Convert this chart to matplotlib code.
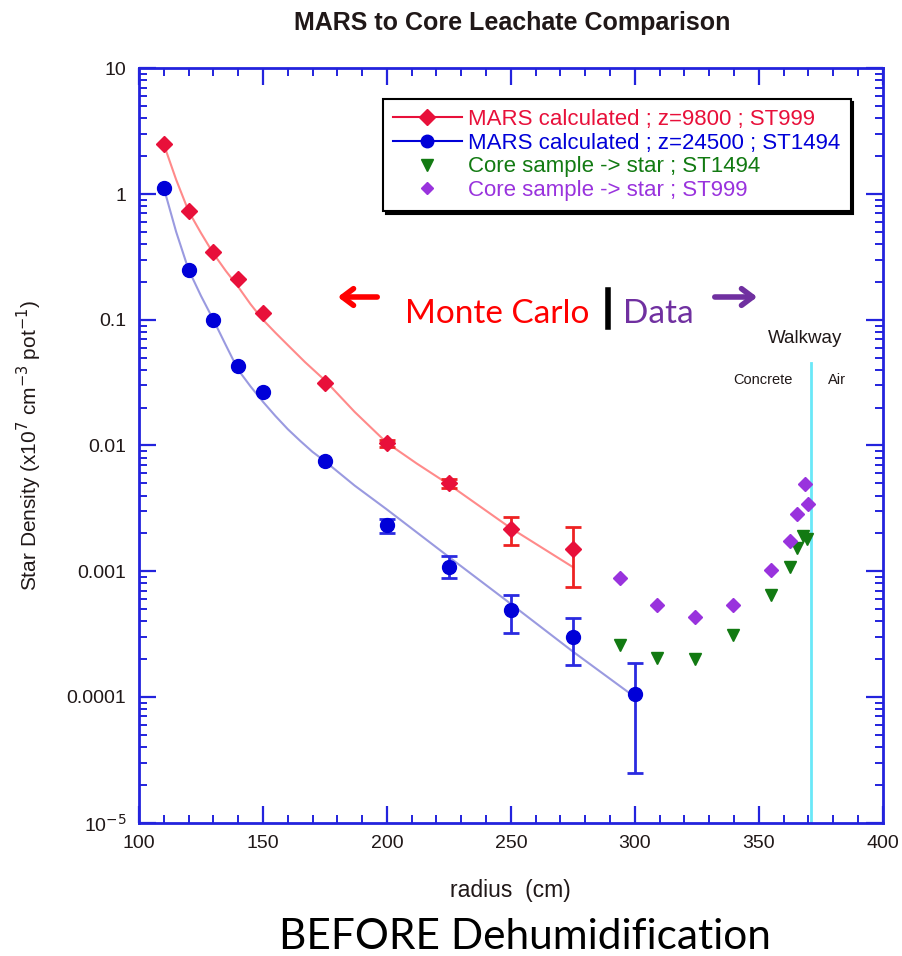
import matplotlib
matplotlib.use("Agg")
import matplotlib.pyplot as plt
from matplotlib.lines import Line2D
from matplotlib.patches import FancyArrowPatch
from matplotlib.ticker import FixedLocator, LogLocator, NullFormatter

# === Data ===
# MARS calculated ; z=9800 ; ST999 (red diamonds)
red_r = [110, 120, 130, 140, 150, 175, 200, 225, 250, 275]
red_y = [2.49, 0.73, 0.344, 0.212, 0.114, 0.0312, 0.0104, 0.0050, 0.00216, 0.0015]
red_err_r = [200, 225, 250, 275]
red_err_y = [0.0104, 0.0050, 0.00216, 0.0015]
red_err_lo = [0.0097, 0.0046, 0.00161, 0.00075]
red_err_hi = [0.0111, 0.0054, 0.00271, 0.00225]

# MARS calculated ; z=24500 ; ST1494 (blue circles)
blue_r = [110, 120, 130, 140, 150, 175, 200, 225, 250, 275, 300]
blue_y = [1.12, 0.248, 0.0995, 0.0428, 0.0264, 0.00747, 0.00233, 0.00108, 0.000488, 0.0003, 0.000105]
blue_err_r = [200, 225, 250, 275, 300]
blue_err_y = [0.00233, 0.00108, 0.000488, 0.0003, 0.000105]
blue_err_lo = [0.0020, 0.00089, 0.000324, 0.000181, 0.0000249]
blue_err_hi = [0.00259, 0.00131, 0.000645, 0.000421, 0.000188]

# fitted curves
red_fit_r = [110, 115, 120, 125, 130, 135, 140, 145, 150, 155, 160, 167, 175, 187, 200, 212, 225, 250, 275]
red_fit_y = [2.49, 1.3, 0.73, 0.49, 0.337, 0.245, 0.183, 0.133, 0.1, 0.079, 0.063, 0.046, 0.033, 0.0185, 0.0105,
             0.0072, 0.0049, 0.0022, 0.00108]
blue_fit_r = [110, 115, 120, 125, 130, 135, 140, 145, 150, 155, 160, 165, 170, 175, 187, 200, 225, 250, 275, 300]
blue_fit_y = [1.12, 0.5, 0.25, 0.155, 0.1, 0.063, 0.04, 0.0295, 0.0223, 0.0172, 0.0135, 0.0109, 0.0089,
              0.0075, 0.0048, 0.0031, 0.0013, 0.00055, 0.00023, 0.0001]

# Core sample -> star ; ST1494 (green triangles)
green_r = [294.0, 309.1, 324.4, 339.6, 354.8, 362.6, 365.3, 367.9, 369.3]
green_y = [2.58e-4, 2.06e-4, 2.0e-4, 3.1e-4, 6.45e-4, 1.08e-3, 1.53e-3, 1.9e-3, 1.8e-3]

# Core sample -> star ; ST999 (purple diamonds)
purple_r = [294.0, 309.1, 324.4, 339.6, 354.8, 362.6, 365.3, 369.7, 368.5]
purple_y = [8.77e-4, 5.37e-4, 4.29e-4, 5.37e-4, 1.03e-3, 1.74e-3, 2.83e-3, 3.44e-3, 4.9e-3]

walkway_r = 371
walkway_top = 0.045

# === Colours ===
RED = "#e8103a"
RED_ERR = "#ee2222"
RED_LINE = "#ff8a8a"
BLUE = "#0000d8"
BLUE_ERR = "#2a2ae0"
BLUE_LINE = "#9a9ae0"
GREEN = "#127a12"
PURPLE = "#9933dd"
AXIS = "#2323dd"
TXT = "#201818"

plt.rcParams["font.family"] = ["Liberation Sans", "DejaVu Sans"]

fig = plt.figure(figsize=(9.03, 9.56), dpi=100)
ax = fig.add_axes([0.1539, 0.1394, 0.8236, 0.7892])

# curves
ax.plot(red_fit_r, red_fit_y, color=RED_LINE, lw=1.5, zorder=2)
ax.plot(blue_fit_r, blue_fit_y, color=BLUE_LINE, lw=1.5, zorder=2)

# error bars
ax.errorbar(red_err_r, red_err_y,
            yerr=[[y - lo for y, lo in zip(red_err_y, red_err_lo)],
                  [hi - y for y, hi in zip(red_err_y, red_err_hi)]],
            fmt="none", ecolor=RED_ERR, elinewidth=2, capsize=6, capthick=2, zorder=3)
ax.errorbar(blue_err_r, blue_err_y,
            yerr=[[y - lo for y, lo in zip(blue_err_y, blue_err_lo)],
                  [hi - y for y, hi in zip(blue_err_y, blue_err_hi)]],
            fmt="none", ecolor=BLUE_ERR, elinewidth=2, capsize=6, capthick=2, zorder=3)

# markers
ax.plot(red_r, red_y, ls="none", marker="D", ms=8.5, color=RED, zorder=4)
ax.plot(blue_r, blue_y, ls="none", marker="o", ms=10, color=BLUE, zorder=4)
ax.plot(green_r, green_y, ls="none", marker="v", ms=9, color=GREEN, zorder=4)
ax.plot(purple_r, purple_y, ls="none", marker="D", ms=7, color=PURPLE, zorder=4)

# walkway boundary
ax.plot([walkway_r, walkway_r], [1e-5, walkway_top], color="#6ae8f8", lw=2, zorder=1)
ax.text(368.7, 0.0715, "Walkway", color=TXT, fontsize=13.5, ha="center", va="center")
ax.text(351.7, 0.033, "Concrete", color=TXT, fontsize=10.5, ha="center", va="center")
ax.text(381.6, 0.033, "Air", color=TXT, fontsize=10.5, ha="center", va="center")

# axes
ax.set_yscale("log")
ax.set_xlim(100, 400)
ax.set_ylim(1e-5, 10)
ax.xaxis.set_major_locator(FixedLocator([100, 150, 200, 250, 300, 350, 400]))
ax.xaxis.set_minor_locator(FixedLocator(list(range(100, 401, 10))))
ax.set_xticklabels(["100", "150", "200", "250", "300", "350", "400"])
ax.yaxis.set_major_locator(FixedLocator([1e-5, 1e-4, 1e-3, 1e-2, 1e-1, 1, 10]))
ax.set_yticklabels(["10$^{-5}$", "0.0001", "0.001", "0.01", "0.1", "1", "10"])
ax.yaxis.set_minor_locator(LogLocator(base=10, subs=range(2, 10)))
ax.yaxis.set_minor_formatter(NullFormatter())
ax.tick_params(which="both", direction="in", top=True, right=True, color=AXIS,
               labelcolor=TXT, labelsize=14)
ax.tick_params(which="major", length=12, width=1.6, pad=9)
ax.tick_params(which="minor", length=6, width=1.4)
for s in ax.spines.values():
    s.set_color(AXIS)
    s.set_linewidth(2)

ax.set_ylabel("Star Density (x10$^7$ cm$^{-3}$ pot$^{-1}$)", fontsize=15, color=TXT)
ax.yaxis.set_label_coords(-0.128, 0.5)
ax.set_xlabel("radius  (cm)", fontsize=16.5, color=TXT)
ax.xaxis.set_label_coords(0.5, -0.075)

fig.text(0.567, 1 - 23 / 956, "MARS to Core Leachate Comparison", fontsize=18,
         fontweight="bold", color=TXT, ha="center", va="center")

# legend
handles = [
    Line2D([], [], color=RED, marker="D", ms=8, lw=1.5),
    Line2D([], [], color=BLUE, marker="o", ms=9, lw=1.5),
    Line2D([], [], color=GREEN, marker="v", ms=8, ls="none"),
    Line2D([], [], color=PURPLE, marker="D", ms=6, ls="none"),
]
labels = ["MARS calculated ; z=9800 ; ST999",
          "MARS calculated ; z=24500 ; ST1494",
          "Core sample -> star ; ST1494",
          "Core sample -> star ; ST999"]
leg = ax.legend(handles, labels, loc="upper left", bbox_to_anchor=(0.313, 0.974),
                fontsize=16, frameon=True, fancybox=False, edgecolor="black",
                shadow={"color": "black", "alpha": 1}, labelspacing=0.12,
                handlelength=3.1, handletextpad=0.3, borderpad=0.45,
                labelcolor=[RED, BLUE, GREEN, PURPLE])
leg.get_frame().set_linewidth(1.5)

# Monte Carlo | Data annotation
fy = 1 - 297 / 956
fig.patches.append(FancyArrowPatch(
    (380 / 903, fy), (335 / 903, fy), transform=fig.transFigure,
    arrowstyle="->,head_length=8,head_width=6", color="#ff0000", lw=4, mutation_scale=1))
fig.patches.append(FancyArrowPatch(
    (712 / 903, fy), (760 / 903, fy), transform=fig.transFigure,
    arrowstyle="->,head_length=8,head_width=6", color="#7030a0", lw=4, mutation_scale=1))
ty = 1 - 314 / 956
fig.text(405 / 903, ty, "Monte Carlo", fontsize=24, color="#ff0000",
         family="Lato", ha="left", va="center")
fig.lines.append(Line2D([608 / 903, 608 / 903], [1 - 290 / 956, 1 - 327 / 956],
                        transform=fig.transFigure, color="black", lw=4))
fig.text(623 / 903, ty, "Data", fontsize=24, color="#7030a0",
         family="Lato", ha="left", va="center")

fig.text(525 / 903, 1 - 937 / 956, "BEFORE Dehumidification", fontsize=30.5,
         color="black", family="Lato", ha="center", va="center")

fig.savefig("out.png", dpi=100, facecolor="white")
